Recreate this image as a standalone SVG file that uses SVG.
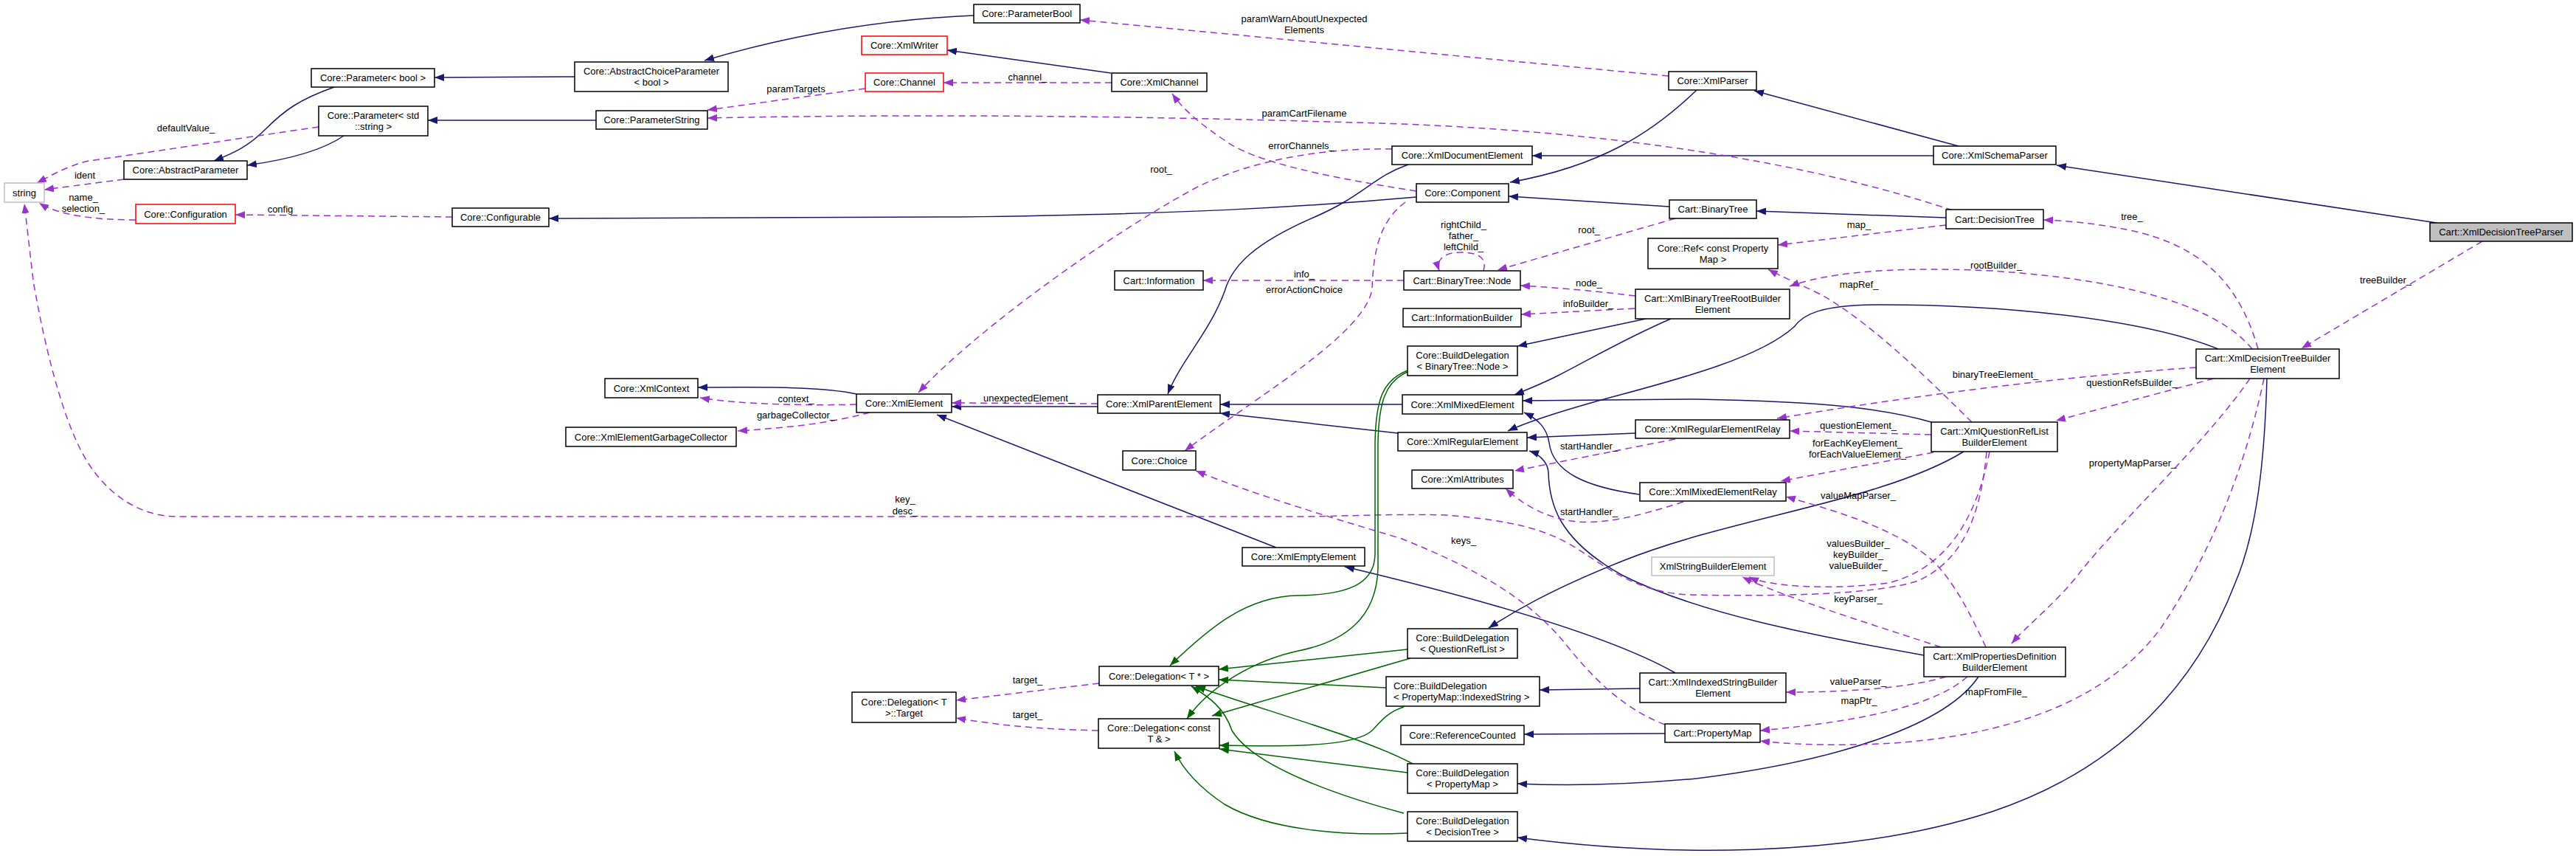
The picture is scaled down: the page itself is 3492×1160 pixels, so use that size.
<svg xmlns="http://www.w3.org/2000/svg" width="3492" height="1160" viewBox="0 0 3492 1160">
<style>
text{font-family:"Liberation Sans",Arial,Helvetica,sans-serif;font-size:13px;fill:#000}
.n text{text-anchor:middle}
.n rect{fill:#fff;stroke:#000;stroke-width:1.5}
.n.red rect{stroke:#ff0000}
.n.ext rect{stroke:#bfbfbf}
.n.cur rect{fill:#bfbfbf}
.e path{fill:none;stroke-width:1.5}
.inh{stroke:#191970;marker-end:url(#mi)}
.use{stroke:#9a32cd;stroke-dasharray:9,6;marker-end:url(#mu)}
.tpl{stroke:#006400;marker-end:url(#mt)}
.lbl text{text-anchor:middle}
</style>
<defs>
<marker id="mi" markerUnits="userSpaceOnUse" markerWidth="14" markerHeight="11" refX="13" refY="5" orient="auto"><path d="M0,0 L13,5 L0,10 z" fill="#191970"/></marker>
<marker id="mu" markerUnits="userSpaceOnUse" markerWidth="14" markerHeight="11" refX="13" refY="5" orient="auto"><path d="M0,0 L13,5 L0,10 z" fill="#9a32cd"/></marker>
<marker id="mt" markerUnits="userSpaceOnUse" markerWidth="14" markerHeight="11" refX="13" refY="5" orient="auto"><path d="M0,0 L13,5 L0,10 z" fill="#006400"/></marker>
</defs>
<rect width="3492" height="1160" fill="#fff"/>
<g id="edges" class="e">
<path class="inh" d="M779,104 L589,105"/>
<path class="inh" d="M808,163 L580,163"/>
<path class="inh" d="M453,118 C405,135 385,150 360,175 C335,200 315,208 290,218"/>
<path class="inh" d="M466,184 C440,202 400,215 335,224"/>
<path class="inh" d="M1920,267 C1750,282 1600,290 1300,294 L744,296"/>
<path class="inh" d="M1320,21 C1200,26 1080,45 955,82"/>
<path class="inh" d="M1506,99 L1284,68"/>
<path class="inh" d="M2300,122 C2240,180 2170,225 2047,247"/>
<path class="inh" d="M2655,198 L2378,123"/>
<path class="inh" d="M2621,211 L2077,211"/>
<path class="inh" d="M2263,280 L2045,266"/>
<path class="inh" d="M2638,295 L2381,286"/>
<path class="inh" d="M3303,302 L2788,224"/>
<path class="inh" d="M1909,223 C1860,240 1850,265 1780,295 C1700,330 1670,360 1660,395 C1640,450 1600,490 1583,534"/>
<path class="inh" d="M1488,551 L1290,551"/>
<path class="inh" d="M1161,534 C1120,525 1050,524 946,525"/>
<path class="inh" d="M1730,742 L1270,562"/>
<path class="inh" d="M1901,548 L1654,548"/>
<path class="inh" d="M1895,587 L1654,560"/>
<path class="inh" d="M2231,432 L2057,469"/>
<path class="inh" d="M2265,432 C2200,460 2150,490 2110,510 C2090,520 2070,528 2053,535"/>
<path class="inh" d="M3007,473 C2900,430 2700,412 2540,413 C2470,414 2445,425 2432,443 C2380,490 2250,520 2160,545 C2100,562 2070,572 2044,584"/>
<path class="inh" d="M2618,572 C2560,555 2480,544 2300,541 L2064,543"/>
<path class="inh" d="M2217,587 L2070,593"/>
<path class="inh" d="M2222,670 C2150,660 2105,640 2100,600 C2097,580 2085,568 2066,559"/>
<path class="inh" d="M2608,888 C2450,860 2300,830 2200,780 C2110,730 2100,680 2099,640 C2098,625 2085,615 2073,611"/>
<path class="inh" d="M2662,612 C2550,680 2350,700 2200,760 C2100,800 2050,830 2018,851"/>
<path class="inh" d="M2271,912 C2180,860 2000,810 1823,768"/>
<path class="inh" d="M2223,933 L2087,935"/>
<path class="inh" d="M2257,994 L2066,995"/>
<path class="inh" d="M2682,917 C2640,980 2500,1030 2300,1055 C2180,1066 2100,1064 2057,1062"/>
<path class="inh" d="M3073,513 C3070,620 3060,720 3030,790 C2980,920 2880,1040 2700,1100 C2500,1165 2250,1160 2057,1135"/>
<path class="use" d="M432,172 C320,188 180,210 120,218 C90,225 65,240 50,248"/>
<path class="use" d="M168,243 L60,257"/>
<path class="use" d="M184,298 C130,298 80,292 53,275"/>
<path class="use" d="M613,294 L319,291"/>
<path class="use" d="M1173,120 L959,149"/>
<path class="use" d="M1507,112 L1279,112"/>
<path class="use" d="M2647,285 C2450,220 2200,180 1900,168 C1500,155 1200,155 959,160"/>
<path class="use" d="M2262,103 L1464,27"/>
<path class="use" d="M1887,202 C1800,200 1700,215 1620,255 C1500,320 1320,450 1245,532"/>
<path class="use" d="M1920,259 C1800,240 1700,220 1660,190 C1630,170 1605,150 1589,127"/>
<path class="use" d="M1905,274 C1870,300 1862,340 1860,390 C1855,450 1700,540 1606,611"/>
<path class="use" d="M1903,380 L1631,380"/>
<path class="use" d="M2271,296 L2030,366"/>
<path class="use" d="M2011,367 C2016,350 2005,342 1981,342 C1957,342 1946,352 1951,367"/>
<path class="use" d="M2638,305 L2410,332"/>
<path class="use" d="M2217,401 C2150,393 2100,389 2061,387"/>
<path class="use" d="M2216,418 L2062,426"/>
<path class="use" d="M2673,572 C2620,520 2540,440 2470,400 C2440,385 2415,375 2397,365"/>
<path class="use" d="M3053,473 C3010,420 2900,380 2700,367 C2550,360 2470,372 2426,388"/>
<path class="use" d="M3061,473 C3040,400 3000,340 2900,315 C2850,303 2800,299 2770,298"/>
<path class="use" d="M3365,327 L3120,472"/>
<path class="use" d="M2977,498 C2800,510 2600,535 2409,567"/>
<path class="use" d="M3001,513 L2787,570"/>
<path class="use" d="M3050,513 C2990,600 2880,700 2820,775 C2790,815 2750,845 2727,872"/>
<path class="use" d="M3069,513 C3040,650 2990,760 2930,850 C2850,960 2700,1000 2550,1008 C2470,1011 2420,1008 2386,1004"/>
<path class="use" d="M2618,589 L2426,584"/>
<path class="use" d="M2621,613 L2414,652"/>
<path class="use" d="M2271,595 L2053,638"/>
<path class="use" d="M2282,680 C2220,700 2170,712 2130,706 C2090,700 2060,680 2041,662"/>
<path class="use" d="M2692,877 C2670,830 2650,790 2620,760 C2570,715 2480,690 2421,673"/>
<path class="use" d="M2697,612 C2680,700 2640,770 2560,790 C2480,800 2400,795 2371,782"/>
<path class="use" d="M2693,612 C2685,700 2660,760 2600,787 C2540,808 2380,808 2290,806 C2220,803 2180,770 2140,745 C2100,718 2050,705 1960,698 C1880,696 1820,700 1760,700 L240,700 C200,700 150,680 115,620 C80,560 55,440 45,380 L33,276"/>
<path class="use" d="M2257,982 C2200,960 2160,920 2120,870 C2070,810 2000,770 1900,730 C1800,700 1700,670 1621,638"/>
<path class="use" d="M2638,917 C2580,935 2480,938 2421,938"/>
<path class="use" d="M2667,917 C2630,950 2550,975 2386,990"/>
<path class="use" d="M2631,877 C2550,850 2420,810 2362,782"/>
<path class="use" d="M1161,548 C1100,550 1000,548 949,539"/>
<path class="use" d="M1179,559 C1120,575 1060,580 1000,584"/>
<path class="use" d="M1488,547 L1290,546"/>
<path class="use" d="M1490,926 L1296,949"/>
<path class="use" d="M1489,990 C1400,988 1350,982 1296,973"/>
<path class="tpl" d="M1908,502 C1875,515 1865,540 1864,600 L1864,750 C1864,790 1830,806 1760,807 C1690,808 1640,850 1586,902"/>
<path class="tpl" d="M1908,504 C1878,517 1869,545 1868,600 L1868,770 C1866,840 1820,870 1760,882 C1700,895 1640,930 1609,974"/>
<path class="tpl" d="M1908,880 L1652,907"/>
<path class="tpl" d="M1912,892 L1643,970"/>
<path class="tpl" d="M1879,932 L1652,921"/>
<path class="tpl" d="M1903,958 C1880,965 1870,980 1860,990 C1840,1008 1780,1013 1653,1010"/>
<path class="tpl" d="M1915,1035 C1850,1000 1720,965 1621,930"/>
<path class="tpl" d="M1908,1047 L1653,1015"/>
<path class="tpl" d="M1903,1102 C1820,1080 1700,1040 1670,990 C1660,960 1640,945 1615,930"/>
<path class="tpl" d="M1908,1129 C1820,1133 1720,1125 1660,1090 C1630,1070 1605,1045 1592,1018"/>
</g>
<g id="edge-labels" class="lbl">
<text x="252" y="178">defaultValue_</text>
<text x="115" y="242">ident</text>
<text x="113" y="272">name_</text>
<text x="113" y="287">selection_</text>
<text x="380" y="288">config</text>
<text x="1079" y="125">paramTargets</text>
<text x="1393" y="109">channel_</text>
<text x="1768" y="30">paramWarnAboutUnexpected</text>
<text x="1768" y="45">Elements</text>
<text x="1768" y="158">paramCartFilename</text>
<text x="1764" y="202">errorChannels_</text>
<text x="1574" y="234">root_</text>
<text x="1768" y="376">info_</text>
<text x="1768" y="397">errorActionChoice</text>
<text x="1984" y="309">rightChild_</text>
<text x="1984" y="324">father_</text>
<text x="1984" y="339">leftChild_</text>
<text x="2154" y="316">root_</text>
<text x="2520" y="309">map_</text>
<text x="2154" y="388">node_</text>
<text x="2520" y="390">mapRef_</text>
<text x="2890" y="298">tree_</text>
<text x="2706" y="364">rootBuilder_</text>
<text x="3234" y="384">treeBuilder_</text>
<text x="2705" y="512">binaryTreeElement_</text>
<text x="2890" y="523">questionRefsBuilder_</text>
<text x="2891" y="632">propertyMapParser_</text>
<text x="1079" y="545">context_</text>
<text x="1079" y="567">garbageCollector_</text>
<text x="1394" y="544">unexpectedElement_</text>
<text x="1227" y="681">key_</text>
<text x="1227" y="697">desc_</text>
<text x="2153" y="416">infoBuilder_</text>
<text x="2519" y="581">questionElement_</text>
<text x="2518" y="605">forEachKeyElement_</text>
<text x="2518" y="620">forEachValueElement_</text>
<text x="2154" y="609">startHandler_</text>
<text x="2154" y="698">startHandler_</text>
<text x="2519" y="676">valueMapParser_</text>
<text x="1984" y="737">keys_</text>
<text x="2519" y="741">valuesBuilder_</text>
<text x="2519" y="756">keyBuilder_</text>
<text x="2519" y="771">valueBuilder_</text>
<text x="2519" y="816">keyParser_</text>
<text x="2519" y="928">valueParser_</text>
<text x="2520" y="954">mapPtr_</text>
<text x="2706" y="942">mapFromFile_</text>
<text x="1393" y="926">target_</text>
<text x="1393" y="973">target_</text>
</g>
<g id="n_p_bool" class="n"><rect x="422" y="93" width="167" height="25"/><text x="505.5" y="110">Core::Parameter&lt; bool &gt;</text></g>
<g id="n_p_str" class="n"><rect x="432" y="144" width="148" height="40"/><text x="506" y="161">Core::Parameter&lt; std</text><text x="506" y="176">::string &gt;</text></g>
<g id="n_abs_param" class="n"><rect x="168" y="218" width="167" height="25"/><text x="251.5" y="235">Core::AbstractParameter</text></g>
<g id="n_string" class="n ext"><rect x="6" y="248" width="54" height="26"/><text x="33" y="265.5">string</text></g>
<g id="n_configuration" class="n red"><rect x="184" y="277" width="135" height="26"/><text x="251.5" y="294.5">Core::Configuration</text></g>
<g id="n_configurable" class="n"><rect x="613" y="282" width="131" height="25"/><text x="678.5" y="299">Core::Configurable</text></g>
<g id="n_abs_choice" class="n"><rect x="779" y="84" width="208" height="40"/><text x="883" y="101">Core::AbstractChoiceParameter</text><text x="883" y="116">&lt; bool &gt;</text></g>
<g id="n_param_string" class="n"><rect x="808" y="150" width="151" height="25"/><text x="883.5" y="167">Core::ParameterString</text></g>
<g id="n_param_bool" class="n"><rect x="1320" y="6" width="144" height="25"/><text x="1392" y="23">Core::ParameterBool</text></g>
<g id="n_xml_writer" class="n red"><rect x="1168" y="49" width="116" height="25"/><text x="1226" y="66">Core::XmlWriter</text></g>
<g id="n_channel" class="n red"><rect x="1173" y="99" width="106" height="25"/><text x="1226" y="116">Core::Channel</text></g>
<g id="n_xml_channel" class="n"><rect x="1507" y="99" width="129" height="25"/><text x="1571.5" y="116">Core::XmlChannel</text></g>
<g id="n_information" class="n"><rect x="1511" y="367" width="120" height="26"/><text x="1571" y="384.5">Cart::Information</text></g>
<g id="n_xml_parser" class="n"><rect x="2262" y="97" width="119" height="25"/><text x="2321.5" y="114">Core::XmlParser</text></g>
<g id="n_xml_doc" class="n"><rect x="1887" y="198" width="190" height="25"/><text x="1982" y="215">Core::XmlDocumentElement</text></g>
<g id="n_xml_schema" class="n"><rect x="2621" y="198" width="166" height="25"/><text x="2704" y="215">Core::XmlSchemaParser</text></g>
<g id="n_component" class="n"><rect x="1920" y="249" width="125" height="25"/><text x="1982.5" y="266">Core::Component</text></g>
<g id="n_binary_tree" class="n"><rect x="2263" y="271" width="118" height="25"/><text x="2322" y="288">Cart::BinaryTree</text></g>
<g id="n_decision_tree" class="n"><rect x="2638" y="284" width="132" height="26"/><text x="2704" y="301.5">Cart::DecisionTree</text></g>
<g id="n_ref" class="n"><rect x="2234" y="323" width="176" height="41"/><text x="2322" y="340.5">Core::Ref&lt; const Property</text><text x="2322" y="355.5">Map &gt;</text></g>
<g id="n_node" class="n"><rect x="1903" y="367" width="158" height="26"/><text x="1982" y="384.5">Cart::BinaryTree::Node</text></g>
<g id="n_xbtrbe" class="n"><rect x="2217" y="392" width="209" height="40"/><text x="2321.5" y="409">Cart::XmlBinaryTreeRootBuilder</text><text x="2321.5" y="424">Element</text></g>
<g id="n_xdtp" class="n cur"><rect x="3294" y="302" width="193" height="25"/><text x="3390.5" y="319">Cart::XmlDecisionTreeParser</text></g>
<g id="n_xdtbe" class="n"><rect x="2977" y="473" width="194" height="40"/><text x="3074" y="490">Cart::XmlDecisionTreeBuilder</text><text x="3074" y="505">Element</text></g>
<g id="n_xqrlbe" class="n"><rect x="2618" y="572" width="171" height="40"/><text x="2703.5" y="589">Cart::XmlQuestionRefList</text><text x="2703.5" y="604">BuilderElement</text></g>
<g id="n_xml_context" class="n"><rect x="820" y="513" width="126" height="26"/><text x="883" y="530.5">Core::XmlContext</text></g>
<g id="n_gc" class="n"><rect x="767" y="579" width="231" height="26"/><text x="882.5" y="596.5">Core::XmlElementGarbageCollector</text></g>
<g id="n_xml_element" class="n"><rect x="1161" y="534" width="129" height="25"/><text x="1225.5" y="551">Core::XmlElement</text></g>
<g id="n_xml_parent" class="n"><rect x="1488" y="535" width="166" height="25"/><text x="1571" y="552">Core::XmlParentElement</text></g>
<g id="n_choice" class="n"><rect x="1522" y="611" width="99" height="26"/><text x="1571.5" y="628.5">Core::Choice</text></g>
<g id="n_xml_empty" class="n"><rect x="1684" y="742" width="166" height="25"/><text x="1767" y="759">Core::XmlEmptyElement</text></g>
<g id="n_info_builder" class="n"><rect x="1902" y="418" width="160" height="25"/><text x="1982" y="435">Cart::InformationBuilder</text></g>
<g id="n_bd_node" class="n"><rect x="1908" y="469" width="149" height="40"/><text x="1982.5" y="486">Core::BuildDelegation</text><text x="1982.5" y="501">&lt; BinaryTree::Node &gt;</text></g>
<g id="n_xml_mixed" class="n"><rect x="1901" y="535" width="163" height="26"/><text x="1982.5" y="552.5">Core::XmlMixedElement</text></g>
<g id="n_xml_regular" class="n"><rect x="1895" y="586" width="175" height="25"/><text x="1982.5" y="603">Core::XmlRegularElement</text></g>
<g id="n_xml_attr" class="n"><rect x="1914" y="637" width="137" height="25"/><text x="1982.5" y="654">Core::XmlAttributes</text></g>
<g id="n_xrer" class="n"><rect x="2217" y="569" width="209" height="25"/><text x="2321.5" y="586">Core::XmlRegularElementRelay</text></g>
<g id="n_xmer" class="n"><rect x="2223" y="654" width="198" height="25"/><text x="2322" y="671">Core::XmlMixedElementRelay</text></g>
<g id="n_xsbe" class="n ext"><rect x="2239" y="755" width="166" height="25"/><text x="2322" y="772">XmlStringBuilderElement</text></g>
<g id="n_del_target" class="n"><rect x="1155" y="938" width="141" height="41"/><text x="1225.5" y="955.5">Core::Delegation&lt; T</text><text x="1225.5" y="970.5">&gt;::Target</text></g>
<g id="n_del_ptr" class="n"><rect x="1490" y="903" width="162" height="26"/><text x="1571" y="920.5">Core::Delegation&lt; T * &gt;</text></g>
<g id="n_del_const" class="n"><rect x="1489" y="974" width="164" height="40"/><text x="1571" y="991">Core::Delegation&lt; const</text><text x="1571" y="1006">T &amp; &gt;</text></g>
<g id="n_bd_qrl" class="n"><rect x="1908" y="852" width="149" height="40"/><text x="1982.5" y="869">Core::BuildDelegation</text><text x="1982.5" y="884">&lt; QuestionRefList &gt;</text></g>
<g id="n_bd_is" class="n"><rect x="1879" y="917" width="208" height="40"/><text x="1889" y="934" style="text-anchor:start">Core::BuildDelegation</text><text x="1889" y="949" style="text-anchor:start">&lt; PropertyMap::IndexedString &gt;</text></g>
<g id="n_ref_counted" class="n"><rect x="1899" y="983" width="167" height="26"/><text x="1982.5" y="1000.5">Core::ReferenceCounted</text></g>
<g id="n_bd_pm" class="n"><rect x="1908" y="1035" width="149" height="40"/><text x="1982.5" y="1052">Core::BuildDelegation</text><text x="1982.5" y="1067">&lt; PropertyMap &gt;</text></g>
<g id="n_bd_dt" class="n"><rect x="1908" y="1100" width="149" height="40"/><text x="1982.5" y="1117">Core::BuildDelegation</text><text x="1982.5" y="1132">&lt; DecisionTree &gt;</text></g>
<g id="n_xisbe" class="n"><rect x="2223" y="912" width="198" height="40"/><text x="2322" y="929">Cart::XmlIndexedStringBuilder</text><text x="2322" y="944">Element</text></g>
<g id="n_property_map" class="n"><rect x="2257" y="981" width="129" height="25"/><text x="2321.5" y="998">Cart::PropertyMap</text></g>
<g id="n_xpdbe" class="n"><rect x="2608" y="877" width="192" height="40"/><text x="2704" y="894">Cart::XmlPropertiesDefinition</text><text x="2704" y="909">BuilderElement</text></g>
</svg>
